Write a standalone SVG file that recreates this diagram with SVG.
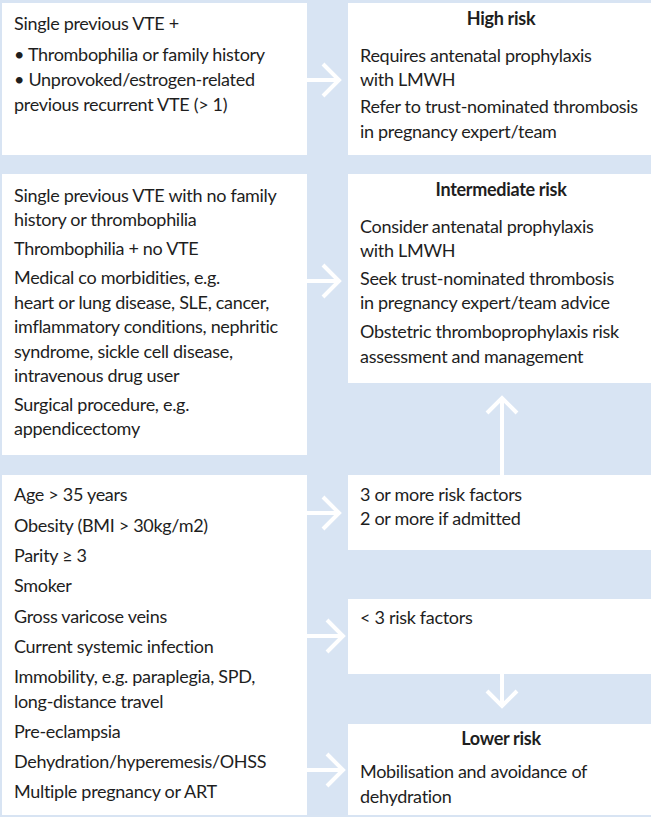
<svg xmlns="http://www.w3.org/2000/svg" width="651" height="817" viewBox="0 0 651 817">
<style>
.bg{fill:#d8e4f3}
.box{fill:#ffffff}
text{font-family:Lato,"Open Sans",sans-serif;font-size:18px;fill:#1e1e1e;letter-spacing:-0.3px}
.h{font-weight:bold;text-anchor:middle}
.ar{fill:none;stroke:#ffffff;stroke-width:4}
</style>
<rect class="bg" x="0" y="0" width="651" height="817"/>
<g id="left1">
<rect class="box" x="2" y="3" width="305" height="152"/>
<text x="14" y="30">Single previous VTE +</text>
<text x="14" y="61">• Thrombophilia or family history</text>
<text x="14" y="86">• Unprovoked/estrogen-related</text>
<text x="14" y="111">previous recurrent VTE (&gt; 1)</text>
</g>
<g id="high">
<rect class="box" x="348" y="3" width="303" height="152"/>
<text class="h" x="501" y="25">High risk</text>
<text x="360" y="62">Requires antenatal prophylaxis</text>
<text x="360" y="86">with LMWH</text>
<text x="360" y="113">Refer to trust-nominated thrombosis</text>
<text x="360" y="138">in pregnancy expert/team</text>
</g>
<g id="left2">
<rect class="box" x="2" y="174" width="305" height="281"/>
<text x="14" y="202">Single previous VTE with no family</text>
<text x="14" y="226">history or thrombophilia</text>
<text x="14" y="255">Thrombophilia + no VTE</text>
<text x="14" y="284">Medical co morbidities, e.g.</text>
<text x="14" y="309">heart or lung disease, SLE, cancer,</text>
<text x="14" y="333">imflammatory conditions, nephritic</text>
<text x="14" y="358">syndrome, sickle cell disease,</text>
<text x="14" y="382">intravenous drug user</text>
<text x="14" y="411">Surgical procedure, e.g.</text>
<text x="14" y="435">appendicectomy</text>
</g>
<g id="intermediate">
<rect class="box" x="348" y="174" width="303" height="209"/>
<text class="h" x="501" y="196">Intermediate risk</text>
<text x="360" y="233">Consider antenatal prophylaxis</text>
<text x="360" y="257">with LMWH</text>
<text x="360" y="285">Seek trust-nominated thrombosis</text>
<text x="360" y="309">in pregnancy expert/team advice</text>
<text x="360" y="338">Obstetric thromboprophylaxis risk</text>
<text x="360" y="363">assessment and management</text>
</g>
<g id="left3">
<rect class="box" x="2" y="475" width="305" height="340"/>
<text x="14" y="501">Age &gt; 35 years</text>
<text x="14" y="532">Obesity (BMI &gt; 30kg/m2)</text>
<text x="14" y="562">Parity ≥ 3</text>
<text x="14" y="592">Smoker</text>
<text x="14" y="623">Gross varicose veins</text>
<text x="14" y="653">Current systemic infection</text>
<text x="14" y="683">Immobility, e.g. paraplegia, SPD,</text>
<text x="14" y="708">long-distance travel</text>
<text x="14" y="738">Pre-eclampsia</text>
<text x="14" y="768">Dehydration/hyperemesis/OHSS</text>
<text x="14" y="798">Multiple pregnancy or ART</text>
</g>
<g id="three">
<rect class="box" x="348" y="475" width="303" height="75"/>
<text x="360" y="501">3 or more risk factors</text>
<text x="360" y="525">2 or more if admitted</text>
</g>
<g id="less3">
<rect class="box" x="348" y="599" width="303" height="75"/>
<text x="360" y="624">&lt; 3 risk factors</text>
</g>
<g id="lower">
<rect class="box" x="348" y="724" width="303" height="91"/>
<text class="h" x="501" y="745">Lower risk</text>
<text x="360" y="778">Mobilisation and avoidance of</text>
<text x="360" y="803">dehydration</text>
</g>
<g id="connectors">
<path class="ar" d="M307 80H340M323 64L339 80L323 96"/>
<path class="ar" d="M307 281H340M323 265L339 281L323 297"/>
<path class="ar" d="M307 513H340M323 497L339 513L323 529"/>
<path class="ar" d="M307 636H343M327 620L343 636L327 652"/>
<path class="ar" d="M307 770H343M327 754L343 770L327 786"/>
<path class="ar" d="M502 475V398M487 413L502 398L517 413"/>
<path class="ar" d="M502 674V706M487 691L502 706L517 691"/>
</g>
</svg>
